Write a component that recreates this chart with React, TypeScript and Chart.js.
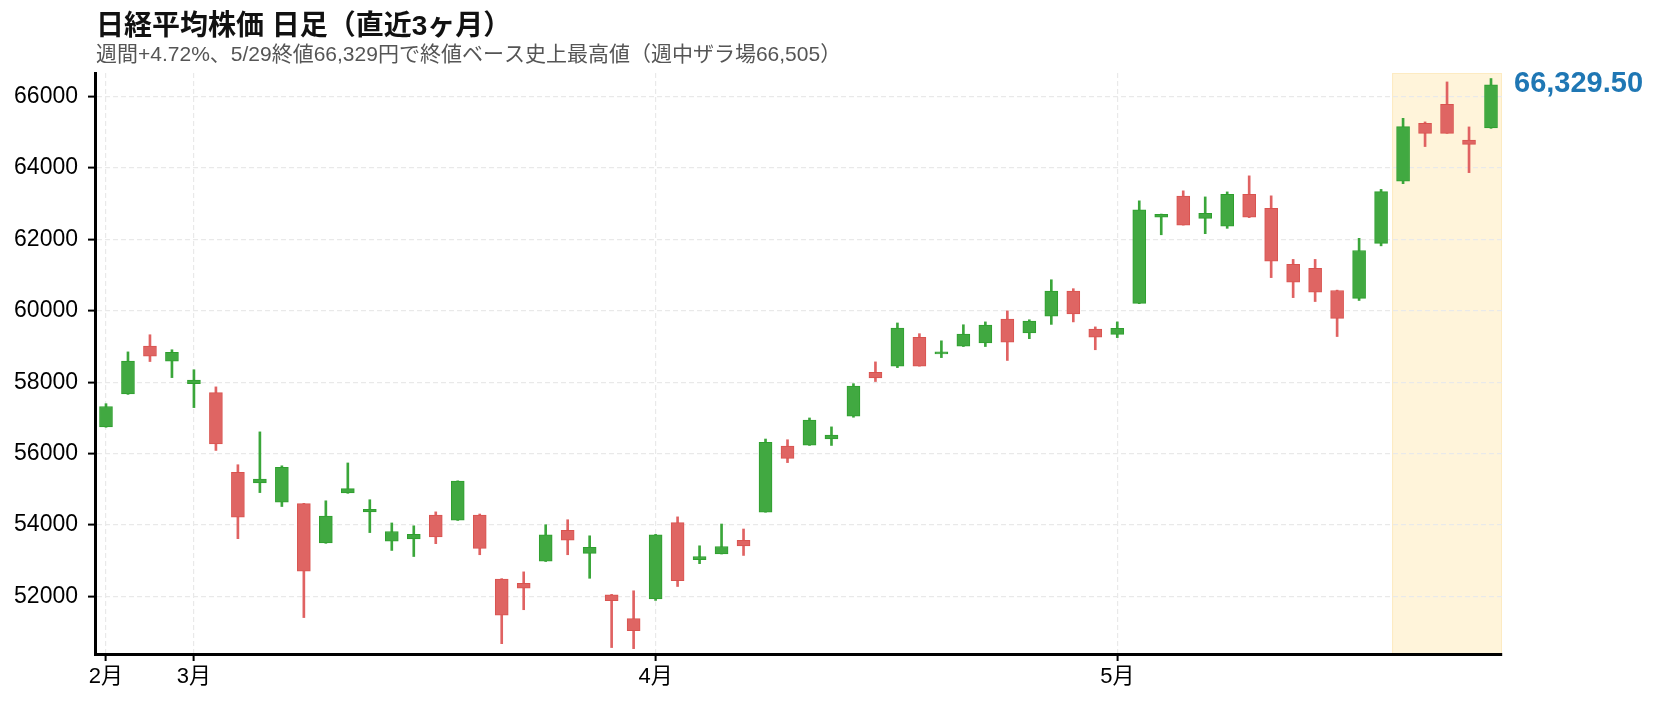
import { useEffect, useRef } from "react";
import { Chart, registerables } from "chart.js";

Chart.register(...registerables);

// ---- data ----
const dates = [
  "2/24", "2/25", "2/26", "2/27",
  "3/2", "3/3", "3/4", "3/5", "3/6", "3/9", "3/10", "3/11", "3/12", "3/13",
  "3/16", "3/17", "3/18", "3/19", "3/23", "3/24", "3/25", "3/26", "3/27", "3/30", "3/31",
  "4/1", "4/2", "4/3", "4/6", "4/7", "4/8", "4/9", "4/10", "4/13", "4/14", "4/15", "4/16", "4/17",
  "4/20", "4/21", "4/22", "4/23", "4/24", "4/27", "4/28", "4/30",
  "5/1", "5/7", "5/8", "5/11", "5/12", "5/13", "5/14", "5/15",
  "5/18", "5/19", "5/20", "5/21", "5/22", "5/25", "5/26", "5/27", "5/28", "5/29",
];

const opens = [
  56750, 57670, 59010, 58590, 57960, 57710, 55480, 55180, 54640, 54600,
  53500, 54900, 54370, 53550, 53610, 54280, 54140, 54280, 52490, 52370,
  52990, 53850, 53210, 52050, 51380, 51930, 54070, 53030, 53190, 53570,
  54360, 56210, 56240, 56410, 57050, 58280, 58450, 59260, 58790, 59010,
  59100, 59770, 59380, 59850, 60550, 59490, 59340, 60210, 62620, 63210,
  62590, 62370, 63260, 62870, 61300, 61190, 60570, 60350, 61890, 63630,
  65250, 65780, 64780, 65120,
];
const highs = [
  57400, 58850, 59330, 58910, 58350, 57870, 55690, 56610, 55660, 54610,
  54680, 55740, 54710, 54060, 53980, 54370, 55240, 54310, 52500, 52690,
  54010, 54150, 53700, 52060, 52160, 53740, 54230, 53420, 54030, 53890,
  56410, 56390, 57000, 56750, 57960, 58570, 59660, 59360, 59160, 59610,
  59690, 60000, 59750, 60870, 60620, 59550, 59690, 63080, 62710, 63360,
  63190, 63330, 63780, 63220, 61440, 61440, 60580, 62030, 63400, 65390,
  65290, 66410, 65150, 66505,
];
const lows = [
  56740, 57660, 58580, 58130, 57290, 56090, 53620, 54910, 54520, 51410,
  53490, 54890, 53790, 53290, 53120, 53480, 54130, 53170, 50680, 51630,
  52980, 53170, 52510, 50570, 50540, 51890, 52280, 52920, 53190, 53150,
  54360, 55750, 56230, 56230, 57020, 58020, 58410, 58450, 58690, 59000,
  59000, 58610, 59220, 59620, 59690, 58910, 59250, 60200, 62130, 62400,
  62160, 62310, 62610, 60930, 60370, 60260, 59280, 60290, 61820, 63560,
  64600, 64970, 63870, 65110,
];
const closes = [
  57320, 58590, 58730, 58840, 58060, 56270, 54220, 55290, 55620, 52710,
  54250, 55020, 54440, 53820, 53740, 53670, 55230, 53350, 51480, 52230,
  53730, 53580, 53380, 51880, 51040, 53730, 52440, 53120, 53400, 53420,
  56320, 55870, 56940, 56520, 57890, 58120, 59520, 58450, 58850, 59350,
  59600, 59120, 59710, 60550, 59910, 59260, 59510, 62830, 62700, 62400,
  62730, 63260, 62620, 61390, 60800, 60520, 59790, 61690, 63340, 65160,
  64970, 64970, 64660, 66329.5,
];

const monthTickIndex = [0, 4, 25, 46];
const monthTickLabels = ["2月", "3月", "4月", "5月"];
const yTicks = [52000, 54000, 56000, 58000, 60000, 62000, 64000, 66000];
const yMin = 50390;
const yMax = 66660;
const highlightFirstIndex = 59; // week of 5/25 - 5/29

const titleText = "日経平均株価 日足（直近3ヶ月）";
const subtitleText = "週間+4.72%、5/29終値66,329円で終値ベース史上最高値（週中ザラ場66,505）";
const lastCloseLabel = "66,329.50";

// ---- styles ----
const FONT = '"Liberation Sans", "Noto Sans CJK JP", sans-serif';
const UP_FILL = "#41a941";
const UP_EDGE = "#2e9f2e";
const DN_FILL = "#df6563";
const DN_EDGE = "#d9534f";
const UP_WICK = "#3aa63a";
const DN_WICK = "#e06262";
const GRID = "#e9e9e9";

const decor = {
  id: "decor",
  beforeDraw(chart: any) {
    const { ctx, chartArea, scales } = chart;
    const x = scales.x;
    const x0 =
      (x.getPixelForValue(highlightFirstIndex - 1) + x.getPixelForValue(highlightFirstIndex)) / 2;
    ctx.save();
    ctx.fillStyle = "#fff4da";
    ctx.fillRect(x0, chartArea.top, chartArea.right - x0, chartArea.bottom - chartArea.top);
    ctx.strokeStyle = "#fdebc2";
    ctx.lineWidth = 1;
    ctx.strokeRect(x0 + 0.5, chartArea.top + 0.5, chartArea.right - x0 - 1, chartArea.bottom - chartArea.top);
    ctx.restore();
  },
  afterDraw(chart: any) {
    const { ctx, chartArea, scales } = chart;
    ctx.save();
    ctx.textAlign = "left";
    ctx.textBaseline = "alphabetic";
    ctx.fillStyle = "#111";
    ctx.font = `bold 28px ${FONT}`;
    ctx.fillText(titleText, 96, 35);
    ctx.fillStyle = "#555";
    ctx.font = `21px ${FONT}`;
    ctx.fillText(subtitleText, 96, 61);
    const last = closes[closes.length - 1];
    ctx.fillStyle = "#1f77b4";
    ctx.font = `bold 29px ${FONT}`;
    ctx.textBaseline = "middle";
    ctx.fillText(lastCloseLabel, chartArea.right + 12, scales.y.getPixelForValue(last) - 1);
    ctx.restore();
  },
};

export default function App() {
  const ref = useRef<HTMLCanvasElement>(null);
  useEffect(() => {
    const up = closes.map((c, i) => c >= opens[i]);
    const isMonth = (i: number) => monthTickIndex.indexOf(i) >= 0;
    const chart = new Chart(ref.current as HTMLCanvasElement, {
      type: "bar",
      data: {
        labels: dates,
        datasets: [
          {
            label: "body",
            data: opens.map((o, i) => [o, closes[i]]) as any,
            backgroundColor: up.map((u) => (u ? UP_FILL : DN_FILL)),
            borderColor: up.map((u) => (u ? UP_EDGE : DN_EDGE)),
            borderWidth: 1,
            borderSkipped: false,
            barThickness: 13,
            grouped: false,
            order: 0,
          },
          {
            label: "wick",
            data: lows.map((l, i) => [l, highs[i]]) as any,
            backgroundColor: up.map((u) => (u ? UP_WICK : DN_WICK)),
            borderWidth: 0,
            barThickness: 2,
            grouped: false,
            order: 1,
          },
        ],
      },
      options: {
        responsive: true,
        maintainAspectRatio: false,
        animation: false,
        events: [],
        layout: { padding: { left: 0, right: 158, top: 73, bottom: 0 } },
        plugins: {
          legend: { display: false },
          tooltip: { enabled: false },
          title: { display: false },
        },
        scales: {
          x: {
            offset: true,
            grid: {
              offset: false,
              color: (c: any) => (isMonth(c.index) ? GRID : "rgba(0,0,0,0)"),
              tickColor: (c: any) => (isMonth(c.index) ? "#000" : "rgba(0,0,0,0)"),
              lineWidth: 1.2,
              tickLength: 7,
              tickWidth: 2,
            },
            border: { color: "#000", width: 3, dash: [5, 3] },
            ticks: {
              autoSkip: false,
              maxRotation: 0,
              minRotation: 0,
              padding: 3,
              color: "#000",
              font: { size: 22, family: FONT },
              callback: (_v: any, i: number) => {
                const k = monthTickIndex.indexOf(i);
                return k >= 0 ? monthTickLabels[k] : "";
              },
            },
            afterFit: (s: any) => {
              s.height = 49;
            },
          } as any,
          y: {
            min: yMin,
            max: yMax,
            afterBuildTicks: (s: any) => {
              s.ticks = yTicks.map((v) => ({ value: v }));
            },
            grid: {
              color: GRID,
              lineWidth: 1.2,
              tickColor: "#000",
              tickLength: 7,
              tickWidth: 2,
            },
            border: { color: "#000", width: 3, dash: [5, 3] },
            ticks: {
              padding: 10,
              color: "#000",
              font: { size: 23, family: FONT },
              callback: (v: any) => String(v),
            },
            afterFit: (s: any) => {
              s.width = 95;
            },
          } as any,
        },
      },
      plugins: [decor],
    });
    return () => chart.destroy();
  }, []);

  return (
    <div style={{ position: "fixed", left: 0, top: 0, width: 1660, height: 703, background: "#fff" }}>
      <canvas ref={ref} />
    </div>
  );
}
